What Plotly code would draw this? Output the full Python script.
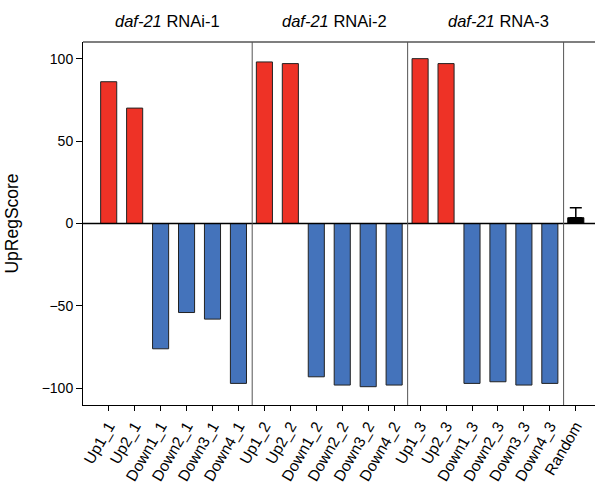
import plotly.graph_objects as go

categories = ["Up1_1", "Up2_1", "Down1_1", "Down2_1", "Down3_1", "Down4_1",
              "Up1_2", "Up2_2", "Down1_2", "Down2_2", "Down3_2", "Down4_2",
              "Up1_3", "Up2_3", "Down1_3", "Down2_3", "Down3_3", "Down4_3"]
scores = [86, 70, -76, -54, -58, -97,
          98, 97, -93, -98, -99, -98,
          100, 97, -97, -96, -98, -97]
random_label = "Random"
random_score = 3.5
random_err = 6
group_titles = ["<i>daf-21</i> RNAi-1", "<i>daf-21</i> RNAi-2", "<i>daf-21</i> RNA-3"]
y_ticks = [-100, -50, 0, 50, 100]

RED = "#EE3226"
BLUE = "#4473BB"

xs = list(range(len(categories)))
colors = [RED if c.startswith("Up") else BLUE for c in categories]

fig = go.Figure()
fig.add_trace(go.Bar(x=xs, y=scores, marker=dict(color=colors, line=dict(color="#222222", width=1)),
                     width=0.62, showlegend=False))
rx = len(categories)
fig.add_trace(go.Bar(x=[rx], y=[random_score], marker=dict(color="black", line=dict(color="black", width=1)),
                     width=0.62, showlegend=False,
                     error_y=dict(type="data", array=[random_err], arrayminus=[0], symmetric=False,
                                  color="black", thickness=1.5, width=6)))

all_labels = categories + [random_label]

fig.update_layout(
    width=595, height=489,
    margin=dict(l=83, r=0, t=42, b=84),
    plot_bgcolor="white", paper_bgcolor="white",
    barmode="overlay",
    font=dict(family="Liberation Sans, Arial, sans-serif", size=14, color="black"),
    xaxis=dict(range=[-0.99, 18.74], tickvals=list(range(len(all_labels))), ticktext=all_labels,
               tickangle=-60, ticks="outside", ticklen=5, tickcolor="black",
               showline=True, linecolor="black", linewidth=1, showgrid=False, zeroline=False,
               tickfont=dict(size=15.5)),
    yaxis=dict(range=[-110.1, 110.1], tickvals=y_ticks, ticks="outside", ticklen=6, tickcolor="black",
               showline=True, linecolor="black", linewidth=1, showgrid=False, zeroline=False,
               title=dict(text="UpRegScore", font=dict(size=17.5), standoff=18),
               tickfont=dict(size=14)),
)

# top border
fig.add_shape(type="line", xref="paper", yref="paper", x0=0, x1=1, y0=1, y1=1,
              line=dict(color="black", width=1.2))
# zero line
fig.add_shape(type="line", xref="paper", yref="y", x0=0, x1=1, y0=0, y1=0,
              line=dict(color="black", width=1.5))
# group separators
for sx in [5.53, 11.52, 17.53]:
    fig.add_shape(type="line", xref="x", yref="paper", x0=sx, x1=sx, y0=0, y1=1,
                  line=dict(color="#555555", width=1))

for t, tx in zip(group_titles, [2.28, 8.7, 15.03]):
    fig.add_annotation(text=t, x=tx, xref="x", y=1, yref="paper", yanchor="bottom", yshift=10,
                       showarrow=False, font=dict(size=16.5))

fig.write_html("out.html")
